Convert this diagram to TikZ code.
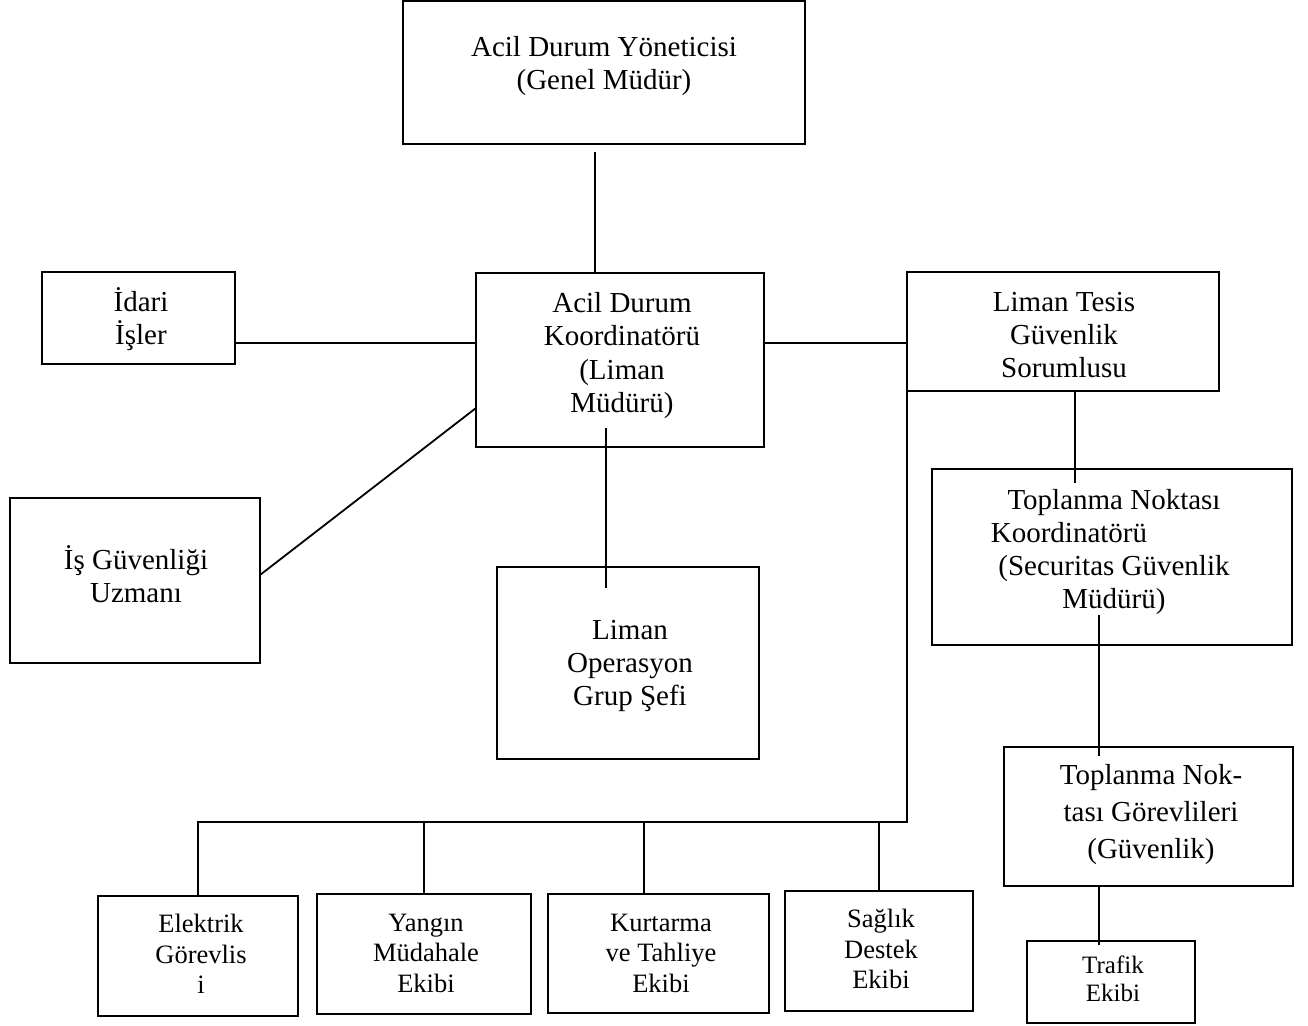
\documentclass[tikz,border=0pt]{standalone}
\usepackage{fontspec}
\setmainfont{Liberation Serif}
\begin{document}
\begin{tikzpicture}[x=1pt,y=-1pt,
  box/.style={draw, line width=1.8pt, inner sep=0pt, outer sep=0pt},
  lab/.style={align=center, inner sep=0pt, font=\fontsize{29pt}{33pt}\selectfont},
  labs/.style={align=center, inner sep=0pt, font=\fontsize{26.5pt}{30.5pt}\selectfont},
  conn/.style={line width=1.8pt, line join=miter}]
\useasboundingbox (0,0) rectangle (1308,1025);
% boxes
\node[box, minimum width=402pt, minimum height=143pt] (yon) at (604,72.5) {};
\node[box, minimum width=288pt, minimum height=174pt] (koord) at (620,360) {};
\node[box, minimum width=193pt, minimum height=92pt] (idari) at (138.5,318) {};
\node[box, minimum width=250pt, minimum height=165pt] (isg) at (135,580.5) {};
\node[box, minimum width=262pt, minimum height=192pt] (ops) at (628,663) {};
\node[box, minimum width=312pt, minimum height=119pt] (tesis) at (1063,331.5) {};
\node[box, minimum width=360pt, minimum height=176pt] (tkoord) at (1112,557) {};
\node[box, minimum width=289pt, minimum height=139pt] (nok) at (1148.5,816.5) {};
\node[box, minimum width=168pt, minimum height=82pt] (trafik) at (1111,982) {};
\node[box, minimum width=200pt, minimum height=120pt] (elek) at (198,956) {};
\node[box, minimum width=214pt, minimum height=120pt] (yang) at (424,954) {};
\node[box, minimum width=221pt, minimum height=119pt] (kurt) at (658.5,953.5) {};
\node[box, minimum width=188pt, minimum height=120pt] (sag) at (879,951) {};
% texts
\node[lab] (yon-t) at (604,66.5) {Acil Durum Yöneticisi\\(Genel Müdür)};
\node[lab, font=\fontsize{29pt}{33.5pt}\selectfont] (koord-t) at (622,355.5) {Acil Durum\\Koordinatörü\\(Liman\\Müdürü)};
\node[lab] (idari-t) at (141,319.5) {İdari\\İşler};
\node[lab] (isg-t) at (136,574.5) {İş Güvenliği\\Uzmanı};
\node[lab] (tesis-t) at (1064,335.5) {Liman Tesis\\Güvenlik\\Sorumlusu};
\node[lab] (tkoord-t) at (1114,552) {Toplanma Noktası\\\mbox{Koordinatörü\hspace{90pt}}\\(Securitas Güvenlik\\Müdürü)};
\node[lab] (ops-t) at (630,665.5) {Liman\\Operasyon\\Grup Şefi};
\node[lab, font=\fontsize{29pt}{37pt}\selectfont] (nok-t) at (1151,815) {Toplanma Nok-\\tası Görevlileri\\(Güvenlik)};
\node[labs, font=\fontsize{25pt}{28pt}\selectfont] (trafik-t) at (1113,979) {Trafik\\Ekibi};
\node[labs] (elek-t) at (201,954) {Elektrik\\Görevlis\\i};
\node[labs] (yang-t) at (426,953) {Yangın\\Müdahale\\Ekibi};
\node[labs] (kurt-t) at (661,953) {Kurtarma\\ve Tahliye\\Ekibi};
\node[labs] (sag-t) at (881,949) {Sağlık\\Destek\\Ekibi};
% helper coordinates
\coordinate (ly) at (0,343);
\coordinate (bus) at (0,822);
% connectors
\draw[conn] ([xshift=-9pt,yshift=-8pt]yon.south) -- ([xshift=-9pt]yon.south |- koord.north);
\draw[conn] (idari.east |- ly) -- (koord.west |- ly);
\draw[conn] (koord.east |- ly) -- (tesis.west |- ly);
\draw[conn] ([yshift=5.5pt]isg.east) -- ([yshift=-48pt]koord.west);
\draw[conn] ([xshift=-14pt,yshift=19pt]koord.south) -- ([xshift=-22pt,yshift=-21pt]ops.north);
\draw[conn] (tesis.south west) -- (tesis.south west |- bus) -- (elek.north |- bus) -- (elek.north);
\draw[conn] (yang.north |- bus) -- (yang.north);
\draw[conn] ([xshift=-14.5pt]kurt.north |- bus) -- ([xshift=-14.5pt]kurt.north);
\draw[conn] (sag.north |- bus) -- (sag.north);
\draw[conn] ([xshift=12pt]tesis.south) -- ([xshift=-37pt,yshift=-14pt]tkoord.north);
\draw[conn] ([xshift=-13pt,yshift=30pt]tkoord.south) -- ([xshift=-49.5pt,yshift=-9pt]nok.north);
\draw[conn] ([xshift=-49.5pt]nok.south) -- ([xshift=-12pt,yshift=-4pt]trafik.north);
\end{tikzpicture}
\end{document}
